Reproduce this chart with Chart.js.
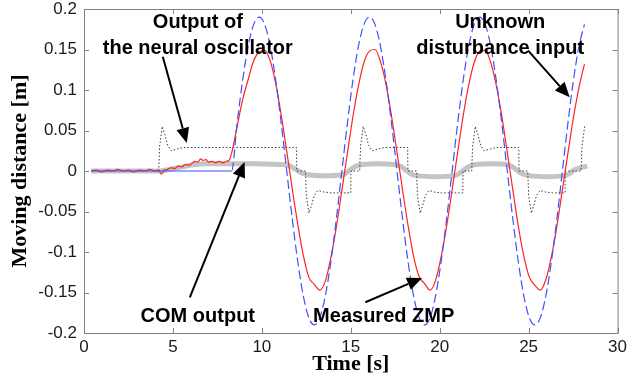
<!DOCTYPE html>
<html lang="en">
<head>
<meta charset="UTF-8">
<title>Moving distance vs time</title>
<style>
  body { margin: 0; background: #fff; }
  #wrap { width: 631px; height: 380px; position: relative; }
</style>
<script src="https://cdn.jsdelivr.net/npm/chart.js@4"></script>
</head>
<body>
<div id="wrap"><canvas id="myChart"></canvas></div>
<script>
// time base of the oscillating part [s]
const oscTime = [8.30, 8.61, 8.92, 9.23, 9.54, 9.85, 10.16, 10.47, 10.78, 11.09,
  11.40, 11.71, 12.02, 12.33, 12.64, 12.95, 13.26, 13.57, 13.88, 14.19,
  14.50, 14.81, 15.12, 15.43, 15.74, 16.05, 16.36, 16.67, 16.98, 17.29,
  17.60, 17.91, 18.22, 18.53, 18.84, 19.15, 19.46, 19.77, 20.08, 20.39,
  20.70, 21.01, 21.32, 21.63, 21.94, 22.25, 22.56, 22.87, 23.18, 23.49,
  23.80, 24.11, 24.42, 24.73, 25.04, 25.35, 25.66, 25.97, 26.28, 26.59,
  26.90, 27.21, 27.52, 27.83, 28.14];

// blue dashed (disturbance input)
const inputFlatTime = [0.4, 4.0];
const inputFlatValues = [0, 0];
const inputValues = [0, 0.059, 0.112, 0.154, 0.181, 0.190, 0.181, 0.154, 0.112, 0.059,
  0, -0.059, -0.112, -0.154, -0.181, -0.190, -0.181, -0.154, -0.112, -0.059,
  0, 0.059, 0.112, 0.154, 0.181, 0.190, 0.181, 0.154, 0.112, 0.059,
  0, -0.059, -0.112, -0.154, -0.181, -0.190, -0.181, -0.154, -0.112, -0.059,
  0, 0.059, 0.112, 0.154, 0.181, 0.190, 0.181, 0.154, 0.112, 0.059,
  0, -0.059, -0.112, -0.154, -0.181, -0.190, -0.181, -0.154, -0.112, -0.059,
  0, 0.059, 0.112, 0.154, 0.181];

// red (measured ZMP)
const zmpStartTime = [0.4, 0.7, 1.0, 1.3, 1.6, 1.9, 2.2, 2.5, 2.8, 3.1, 3.4, 3.7, 4.0, 4.2, 4.35, 4.5, 4.7,
  4.9, 5.1, 5.3, 5.5, 5.7, 5.9, 6.1, 6.25, 6.4, 6.55, 6.7, 6.85, 7.0, 7.2, 7.4, 7.6, 7.8, 8.0, 8.15];
const zmpStartValues = [0.000, 0.001, -0.001, 0.001, 0.000, 0.002, 0.000, 0.001, -0.001, 0.001, 0.000, 0.002, 0.000, 0.001, -0.004, 0.001, 0.002,
  0.004, 0.003, 0.006, 0.005, 0.008, 0.007, 0.010, 0.012, 0.011, 0.015, 0.013, 0.014, 0.011, 0.012, 0.010, 0.012, 0.010, 0.012, 0.013];
const zmpValues = [0.022, 0.055, 0.088, 0.113, 0.136, 0.147, 0.149, 0.136, 0.108, 0.069,
  0.024, -0.022, -0.066, -0.104, -0.131, -0.140, -0.147, -0.136, -0.107, -0.069,
  -0.024, 0.022, 0.067, 0.105, 0.134, 0.148, 0.150, 0.135, 0.107, 0.068,
  0.023, -0.023, -0.067, -0.105, -0.130, -0.139, -0.147, -0.135, -0.106, -0.068,
  -0.023, 0.023, 0.068, 0.106, 0.134, 0.148, 0.149, 0.134, 0.106, 0.068,
  0.023, -0.023, -0.068, -0.105, -0.131, -0.141, -0.147, -0.134, -0.106, -0.068,
  -0.023, 0.022, 0.066, 0.103, 0.132];

// thick grey (COM output)
const comTime = [0.4, 4.2, 4.8, 5.5, 6.2, 6.8, 8.0, 9.5, 11.0, 11.5,
  11.9, 12.3, 12.7, 13.5, 14.4, 14.7, 15.0, 15.3, 15.7, 16.5,
  17.4, 17.8, 18.1, 18.4, 18.8, 19.8, 20.8, 21.1, 21.4, 21.7,
  22.0, 23.0, 23.8, 24.1, 24.4, 24.7, 25.1, 26.0, 27.0, 27.3,
  27.6, 27.9, 28.3];
const comValues = [0, 0, 0.002, 0.005, 0.008, 0.009, 0.009, 0.009, 0.008, 0.007,
  0.002, -0.003, -0.005, -0.006, -0.005, -0.003, 0.002, 0.006, 0.008, 0.009,
  0.008, 0.006, 0.001, -0.004, -0.006, -0.007, -0.006, -0.003, 0.002, 0.006,
  0.008, 0.009, 0.008, 0.005, 0.000, -0.004, -0.006, -0.007, -0.006, -0.003,
  0.002, 0.004, 0.006];

// dotted (neural oscillator output)
const oscOutTime = [4.2, 4.25, 4.4, 4.55, 4.7, 4.9, 5.2, 5.6,
  11.95, 11.96, 12.45, 12.5, 12.65, 12.8, 12.95, 13.15, 13.5, 13.9,
  15.0, 15.01, 15.5, 15.55, 15.7, 15.85, 16.0, 16.2, 16.5, 16.9,
  18.2, 18.21, 18.7, 18.75, 18.9, 19.05, 19.2, 19.4, 19.7, 20.1,
  21.3, 21.31, 21.8, 21.85, 22.0, 22.15, 22.3, 22.5, 22.8, 23.2,
  24.45, 24.46, 24.95, 25.0, 25.15, 25.3, 25.45, 25.65, 25.95, 26.35,
  27.05, 27.06, 27.95, 28.0, 28.15];
const oscOutValues = [0, 0.03, 0.055, 0.045, 0.032, 0.025, 0.027, 0.029,
  0.029, 0, 0, -0.03, -0.052, -0.042, -0.03, -0.024, -0.026, -0.027,
  -0.027, 0, 0, 0.03, 0.055, 0.045, 0.032, 0.025, 0.027, 0.029,
  0.029, 0, 0, -0.03, -0.052, -0.042, -0.03, -0.024, -0.026, -0.027,
  -0.027, 0, 0, 0.03, 0.055, 0.045, 0.032, 0.025, 0.027, 0.029,
  0.029, 0, 0, -0.03, -0.052, -0.042, -0.03, -0.024, -0.026, -0.027,
  -0.027, 0, 0, 0.03, 0.055];

const yTickValues = [-0.2, -0.15, -0.1, -0.05, 0, 0.05, 0.1, 0.15, 0.2];
const yTickLabels = ['-0.2', '-0.15', '-0.1', '-0.05', '0', '0.05', '0.1', '0.15', '0.2'];

// annotations, in data units (time, distance)
const noteTexts = ['Output of', 'the neural oscillator', 'Unknown', 'disturbance input', 'COM output', 'Measured ZMP'];
const noteX = [6.4, 6.4, 23.4, 23.4, 6.4, 16.85];
const noteY = [0.176, 0.145, 0.176, 0.145, -0.186, -0.186];
const arrowFromX = [4.43, 24.96, 5.95, 15.82];
const arrowFromY = [0.141, 0.149, -0.156, -0.162];
const arrowToX = [5.78, 27.31, 9.03, 19.01];
const arrowToY = [0.0346, 0.091, 0.011, -0.132];

function pts(ts, vs) {
  const n = Math.min(ts.length, vs.length);
  const out = [];
  for (let i = 0; i < n; i++) out.push({x: ts[i], y: vs[i]});
  return out;
}

const frame = {
  id: 'frame',
  afterDatasetsDraw(chart) {
    const {ctx, chartArea: a, scales: {x, y}} = chart;
    ctx.save();
    ctx.strokeStyle = '#808080';
    ctx.lineWidth = 1;
    ctx.strokeRect(a.left + 0.5, a.top + 0.5, a.right - a.left, a.bottom - a.top);
    ctx.beginPath();
    x.ticks.forEach(t => {
      const px = Math.round(x.getPixelForValue(t.value)) + 0.5;
      ctx.moveTo(px, a.bottom); ctx.lineTo(px, a.bottom - 5);
      ctx.moveTo(px, a.top); ctx.lineTo(px, a.top + 5);
    });
    y.ticks.forEach(t => {
      const py = Math.round(y.getPixelForValue(t.value)) + 0.5;
      ctx.moveTo(a.left, py); ctx.lineTo(a.left + 5, py);
      ctx.moveTo(a.right, py); ctx.lineTo(a.right - 5, py);
    });
    ctx.stroke();

    ctx.fillStyle = '#000';
    ctx.font = 'bold 20px Arial, "Liberation Sans", sans-serif';
    ctx.textAlign = 'center';
    ctx.textBaseline = 'alphabetic';
    noteTexts.forEach((s, i) => {
      ctx.fillText(s, x.getPixelForValue(noteX[i]), y.getPixelForValue(noteY[i]));
    });

    // arrows
    ctx.strokeStyle = '#000';
    ctx.lineWidth = 2;
    for (let i = 0; i < arrowFromX.length; i++) {
      const x0 = x.getPixelForValue(arrowFromX[i]), y0 = y.getPixelForValue(arrowFromY[i]);
      const x1 = x.getPixelForValue(arrowToX[i]), y1 = y.getPixelForValue(arrowToY[i]);
      const ang = Math.atan2(y1 - y0, x1 - x0);
      const hl = 15, hw = 6.5;
      const bx = x1 - hl * Math.cos(ang), by = y1 - hl * Math.sin(ang);
      ctx.beginPath();
      ctx.moveTo(x0, y0); ctx.lineTo(bx, by);
      ctx.stroke();
      ctx.beginPath();
      ctx.moveTo(x1, y1);
      ctx.lineTo(bx + hw * Math.sin(ang), by - hw * Math.cos(ang));
      ctx.lineTo(bx - hw * Math.sin(ang), by + hw * Math.cos(ang));
      ctx.closePath();
      ctx.fill();
    }
    ctx.restore();
  }
};

const ctx = document.getElementById('myChart').getContext('2d');
const tickFont = {family: 'Arial, "Liberation Sans", sans-serif', size: 17};
const titleFont = {family: '"Times New Roman", "Liberation Serif", serif', size: 22, weight: 'bold'};

new Chart(ctx, {
  type: 'line',
  data: {
    datasets: [
      {
        label: 'COM output',
        data: pts(comTime, comValues),
        borderColor: '#c4c4c4',
        borderWidth: 5,
        cubicInterpolationMode: 'monotone',
        order: 4
      },
      {
        label: 'Output of the neural oscillator',
        data: pts(oscOutTime, oscOutValues),
        borderColor: '#3a3a3a',
        borderWidth: 1,
        borderDash: [1.5, 2],
        tension: 0,
        order: 3
      },
      {
        label: 'Measured ZMP',
        data: pts(zmpStartTime.concat(oscTime), zmpStartValues.concat(zmpValues)),
        borderColor: '#ff2222',
        borderWidth: 1.2,
        cubicInterpolationMode: 'monotone',
        order: 2
      },
      {
        label: 'Unknown disturbance input',
        data: pts(inputFlatTime.concat(oscTime), inputFlatValues.concat(inputValues)),
        borderColor: '#3f4fff',
        borderWidth: 1.2,
        cubicInterpolationMode: 'monotone',
        segment: {
          borderDash: c => c.p0.parsed.x < 8.3 ? [] : [9, 4]
        },
        order: 1
      }
    ]
  },
  options: {
    responsive: true,
    maintainAspectRatio: false,
    animation: false,
    elements: { point: { radius: 0 } },
    layout: { padding: { top: 9, right: 12, left: 0, bottom: 0 } },
    plugins: { legend: { display: false }, tooltip: { enabled: false } },
    scales: {
      x: {
        type: 'linear',
        min: 0, max: 30,
        grid: { display: false, drawTicks: false },
        border: { display: false },
        ticks: { stepSize: 5, padding: 4, color: '#1a1a1a', font: tickFont, maxRotation: 0 },
        title: { display: true, text: 'Time [s]', color: '#000', font: titleFont, padding: { top: 0, bottom: 2 } },
        afterFit(scale) { scale.height = 47; }
      },
      y: {
        min: -0.2, max: 0.2,
        grid: { display: false, drawTicks: false },
        border: { display: false },
        afterBuildTicks(scale) { scale.ticks = yTickValues.map(v => ({value: v})); },
        ticks: { padding: 7, color: '#1a1a1a', font: tickFont, callback: (v, i) => yTickLabels[i] },
        title: { display: true, text: 'Moving distance [m]', color: '#000', font: titleFont, padding: { top: 7, bottom: 0 } },
        afterFit(scale) { scale.width = 84; scale.paddingTop = 0; scale.paddingBottom = 0; }
      }
    }
  },
  plugins: [frame]
});
</script>
</body>
</html>
